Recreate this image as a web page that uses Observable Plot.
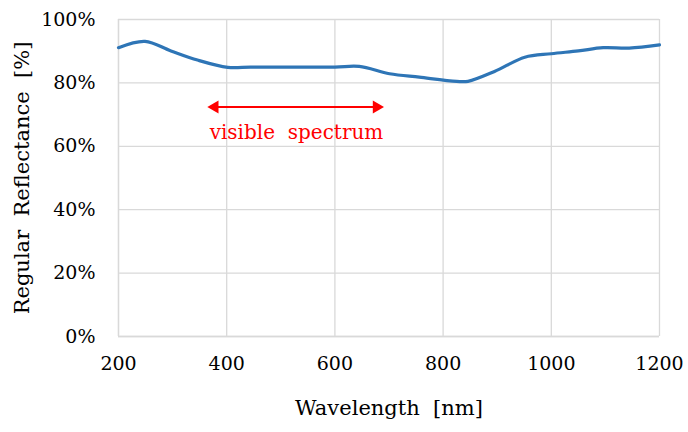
<!DOCTYPE html>
<html>
<head>
<meta charset="utf-8">
<script src="https://cdn.jsdelivr.net/npm/d3@7"></script>
<script src="https://cdn.jsdelivr.net/npm/@observablehq/plot@0.6"></script>
<style>
  body { margin: 0; background: #fff; }
</style>
</head>
<body>
<div id="chart"></div>
<script>
// reflectance curve
const wavelength = [200, 249, 297, 346, 402, 444, 500, 600, 645, 701, 756, 825, 846, 895, 951, 1000, 1050, 1096, 1144, 1200];
const reflectance = [91.1, 93.1, 90.1, 87.2, 84.9, 85.0, 85.0, 85.0, 85.2, 82.9, 81.8, 80.5, 80.5, 83.6, 88.1, 89.2, 90.1, 91.1, 91.0, 92.0];

const xTicks = [200, 400, 600, 800, 1000, 1200];
const yTicks = [0, 20, 40, 60, 80, 100];

// visible spectrum annotation
const arrowFrom = 370;
const arrowTo = 685;
const arrowLevel = 72.4;
const noteText = "visible  spectrum";
const noteX = 529;
const noteY = 62.3;

const serif = "DejaVu Serif";

const data = wavelength.map((w, i) => ({w, r: reflectance[i]}));

const plot = Plot.plot({
  width: 688,
  height: 432,
  marginLeft: 118,
  marginRight: 29,
  marginTop: 19,
  marginBottom: 96,
  style: {fontSize: "19px", fontFamily: serif, color: "#000"},
  x: {domain: [200, 1200], ticks: xTicks, tickSize: 0, tickPadding: 20, tickFormat: d => String(d),
      label: "Wavelength  [nm]", labelAnchor: "center", labelOffset: 78, labelArrow: "none"},
  y: {domain: [0, 100], ticks: yTicks, tickSize: 0, tickPadding: 23, tickFormat: d => d + "%",
      label: "Regular  Reflectance  [%]", labelAnchor: "center", labelOffset: 104, labelArrow: "none"},
  marks: [
    Plot.gridX(xTicks, {stroke: "#d9d9d9", strokeOpacity: 1, strokeWidth: 1.3}),
    Plot.gridY(yTicks, {stroke: "#d9d9d9", strokeOpacity: 1, strokeWidth: 1.3}),
    Plot.ruleX([200], {stroke: "#d9d9d9", strokeWidth: 1.3}),
    Plot.ruleY([0], {stroke: "#d9d9d9", strokeWidth: 1.3}),
    Plot.line(data, {x: "w", y: "r", stroke: "#2e75b6", strokeWidth: 3.2, curve: "catmull-rom"}),
    Plot.link([{a: arrowFrom + 10, b: arrowTo - 10}], {x1: "a", x2: "b", y1: arrowLevel, y2: arrowLevel, stroke: "#ff0000", strokeWidth: 2}),
    Plot.dot([arrowFrom], {x: d => d + 8, y: arrowLevel, symbol: "triangle", r: 4.8, fill: "#ff0000", stroke: null, rotate: -90}),
    Plot.dot([arrowTo], {x: d => d - 8, y: arrowLevel, symbol: "triangle", r: 4.8, fill: "#ff0000", stroke: null, rotate: 90}),
    Plot.text([noteText], {x: noteX, y: noteY, text: d => d, fill: "#ff0000", fontSize: 20, textAnchor: "middle", lineAnchor: "bottom"})
  ]
});

plot.querySelectorAll('[aria-label="x-axis label"], [aria-label="y-axis label"]').forEach(g => g.setAttribute("font-size", "21"));
document.getElementById("chart").append(plot);
</script>
</body>
</html>
